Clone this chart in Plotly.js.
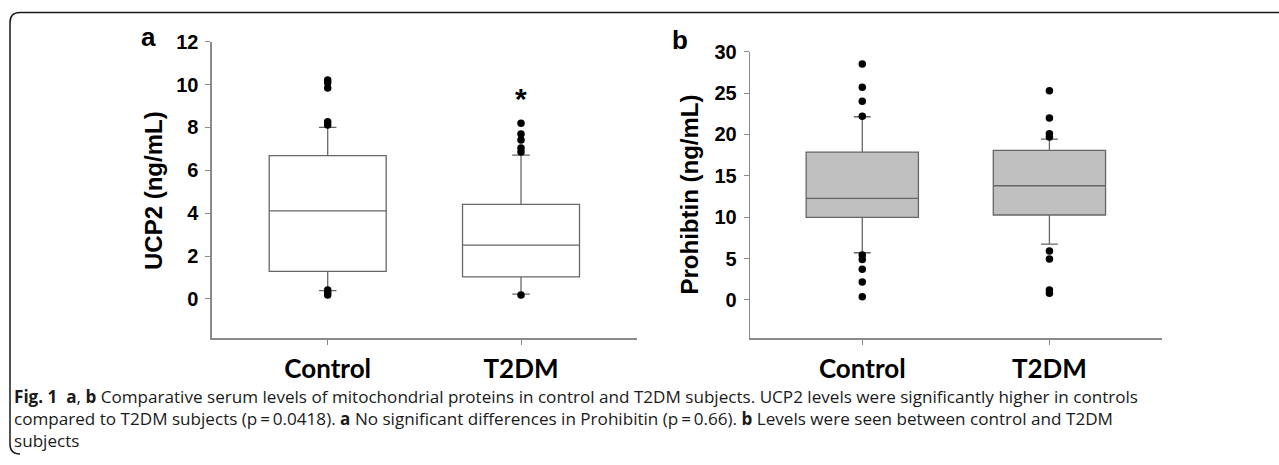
<!DOCTYPE html>
<html>
<head>
<meta charset="utf-8">
<script src="https://cdn.plot.ly/plotly-3.0.1.min.js"></script>
<style>
  html, body { margin: 0; padding: 0; background: #fff; }
  #chart { width: 1279px; height: 465px; }
</style>
</head>
<body>
<div id="chart"></div>
<script>
// ---- Data ----
const categories = ['Control', 'T2DM'];

// Panel a: UCP2 (ng/mL)
const ucp2Q1 = [1.28, 1.03];
const ucp2Median = [4.11, 2.51];
const ucp2Q3 = [6.68, 4.41];
const ucp2LowerWhisker = [0.38, 0.22];
const ucp2UpperWhisker = [8.0, 6.71];
const ucp2OutliersControl = [10.21, 10.08, 9.84, 8.26, 8.11, 0.41, 0.28, 0.18];
const ucp2OutliersT2DM = [8.19, 7.69, 7.41, 7.04, 6.85, 0.18];
const ucp2SignificanceY = 9.51;

// Panel b: Prohibitin (ng/mL)
const phbQ1 = [9.99, 10.27];
const phbMedian = [12.28, 13.8];
const phbQ3 = [17.87, 18.08];
const phbLowerWhisker = [5.71, 6.76];
const phbUpperWhisker = [22.14, 19.44];
const phbOutliersControl = [28.5, 25.7, 24.0, 22.2, 5.43, 4.9, 3.7, 2.17, 0.4];
const phbOutliersT2DM = [25.28, 22.0, 20.1, 19.7, 5.92, 4.95, 1.2, 0.8];

const ucp2Ticks = [0, 2, 4, 6, 8, 10, 12];
const phbTicks = [0, 5, 10, 15, 20, 25, 30];

const captionLines = [
  '<b>Fig. 1</b>  <b>a</b>, <b>b</b> Comparative serum levels of mitochondrial proteins in control and T2DM subjects. UCP2 levels were significantly higher in controls',
  'compared to T2DM subjects (p\u2009=\u20090.0418). <b>a</b> No significant differences in Prohibitin (p\u2009=\u20090.66). <b>b</b> Levels were seen between control and T2DM',
  'subjects'
];

// ---- Helpers: pixel -> paper coords (margins are zero) ----
const W = 1279, H = 465;
const px = x => x / W;
const py = y => 1 - y / H;

const boxLine = '#666666';
const axisLine = '#8a8a8a';

function outlierTrace(cat, vals, xa, ya) {
  return {
    type: 'scatter', mode: 'markers',
    x: vals.map(() => cat), y: vals,
    xaxis: xa, yaxis: ya,
    marker: { color: '#000', size: 7.5 },
    hoverinfo: 'skip', showlegend: false
  };
}

const traces = [
  {
    type: 'box', x: categories,
    q1: ucp2Q1, median: ucp2Median, q3: ucp2Q3,
    lowerfence: ucp2LowerWhisker, upperfence: ucp2UpperWhisker,
    boxpoints: false, width: 0.605, whiskerwidth: 0.15,
    fillcolor: '#ffffff', line: { color: boxLine, width: 1.3 },
    xaxis: 'x', yaxis: 'y', showlegend: false, hoverinfo: 'skip'
  },
  outlierTrace('Control', ucp2OutliersControl, 'x', 'y'),
  outlierTrace('T2DM', ucp2OutliersT2DM, 'x', 'y'),
  {
    type: 'box', x: categories,
    q1: phbQ1, median: phbMedian, q3: phbQ3,
    lowerfence: phbLowerWhisker, upperfence: phbUpperWhisker,
    boxpoints: false, width: 0.6, whiskerwidth: 0.15,
    fillcolor: '#c0c0c0', line: { color: boxLine, width: 1.3 },
    xaxis: 'x2', yaxis: 'y2', showlegend: false, hoverinfo: 'skip'
  },
  outlierTrace('Control', phbOutliersControl, 'x2', 'y2'),
  outlierTrace('T2DM', phbOutliersT2DM, 'x2', 'y2')
];

const xTickFont = { family: 'Lato, "Open Sans", sans-serif', size: 26, weight: 700, color: '#000' };
const yTickFont = { family: '"Liberation Sans", Arial, sans-serif', size: 20, weight: 700, color: '#000' };

function xAxis(domain, anchor) {
  return {
    domain: domain, anchor: anchor, type: 'category',
    categoryorder: 'array', categoryarray: categories,
    range: [-0.6, 1.6], showline: true, linecolor: axisLine, linewidth: 1.3,
    ticks: 'outside', ticklen: 5, tickwidth: 1, tickcolor: axisLine,
    tickfont: xTickFont, showgrid: false, zeroline: false, fixedrange: true,
    ticklabelstandoff: 2
  };
}
function yAxis(domain, anchor, range, tickvals) {
  return {
    domain: domain, anchor: anchor, range: range, tickvals: tickvals,
    showline: true, linecolor: axisLine, linewidth: 1.3,
    ticks: 'outside', ticklen: 5, tickwidth: 1, tickcolor: axisLine,
    tickfont: yTickFont, showgrid: false, zeroline: false, fixedrange: true,
    ticklabelstandoff: 3
  };
}

const captionFont = { family: '"Open Sans", Lato, sans-serif', size: 17.1, color: '#1a1a1a' };
const titleFont = { family: '"Liberation Sans", Arial, sans-serif', size: 24, weight: 700, color: '#000' };

const annotations = [
  { text: 'a', x: px(148), y: py(37), xref: 'paper', yref: 'paper', showarrow: false,
    xanchor: 'center', yanchor: 'middle', font: { family: '"Liberation Sans", Arial, sans-serif', size: 26, weight: 700, color: '#000' } },
  { text: 'b', x: px(680), y: py(40), xref: 'paper', yref: 'paper', showarrow: false,
    xanchor: 'center', yanchor: 'middle', font: { family: '"Liberation Sans", Arial, sans-serif', size: 26, weight: 700, color: '#000' } },
  { text: 'UCP2 (ng/mL)', x: px(153), y: py(191), xref: 'paper', yref: 'paper', showarrow: false,
    textangle: -90, xanchor: 'center', yanchor: 'middle', font: titleFont },
  { text: 'Prohibtin (ng/mL)', x: px(689), y: py(194.5), xref: 'paper', yref: 'paper', showarrow: false,
    textangle: -90, xanchor: 'center', yanchor: 'middle', font: titleFont },
  { text: '*', x: 'T2DM', y: ucp2SignificanceY, xref: 'x', yref: 'y', showarrow: false,
    xanchor: 'center', yanchor: 'middle', yshift: -3,
    font: { family: '"Liberation Sans", Arial, sans-serif', size: 30, weight: 700, color: '#000' } },
  { text: captionLines.join('<br>'),
    x: px(12), y: py(418), xref: 'paper', yref: 'paper', showarrow: false,
    xanchor: 'left', yanchor: 'middle', align: 'left', font: captionFont }
];

// Frame around the figure (rounded left corners)
const framePath = [
  'M', px(1279), py(12.5),
  'L', px(20), py(12.5),
  'Q', px(10), py(12.5), px(10), py(22.5),
  'L', px(10), py(444),
  'Q', px(10), py(454), px(20), py(454)
].join(' ');

const layout = {
  width: W, height: H,
  margin: { l: 0, r: 0, t: 0, b: 0 },
  paper_bgcolor: '#fff', plot_bgcolor: 'rgba(0,0,0,0)',
  showlegend: false,
  xaxis: xAxis([px(211.7), px(637)], 'y'),
  yaxis: yAxis([py(338.3), py(41.7)], 'x', [-1.84, 12], ucp2Ticks),
  xaxis2: xAxis([px(750), px(1161.7)], 'y2'),
  yaxis2: yAxis([py(338.3), py(51.7)], 'x2', [-4.63, 30], phbTicks),
  annotations: annotations,
  shapes: [
    { type: 'path', xref: 'paper', yref: 'paper', path: framePath,
      line: { color: '#1a1a1a', width: 1.5 } }
  ]
};

Plotly.newPlot('chart', traces, layout, { staticPlot: true, displayModeBar: false });
</script>
</body>
</html>
